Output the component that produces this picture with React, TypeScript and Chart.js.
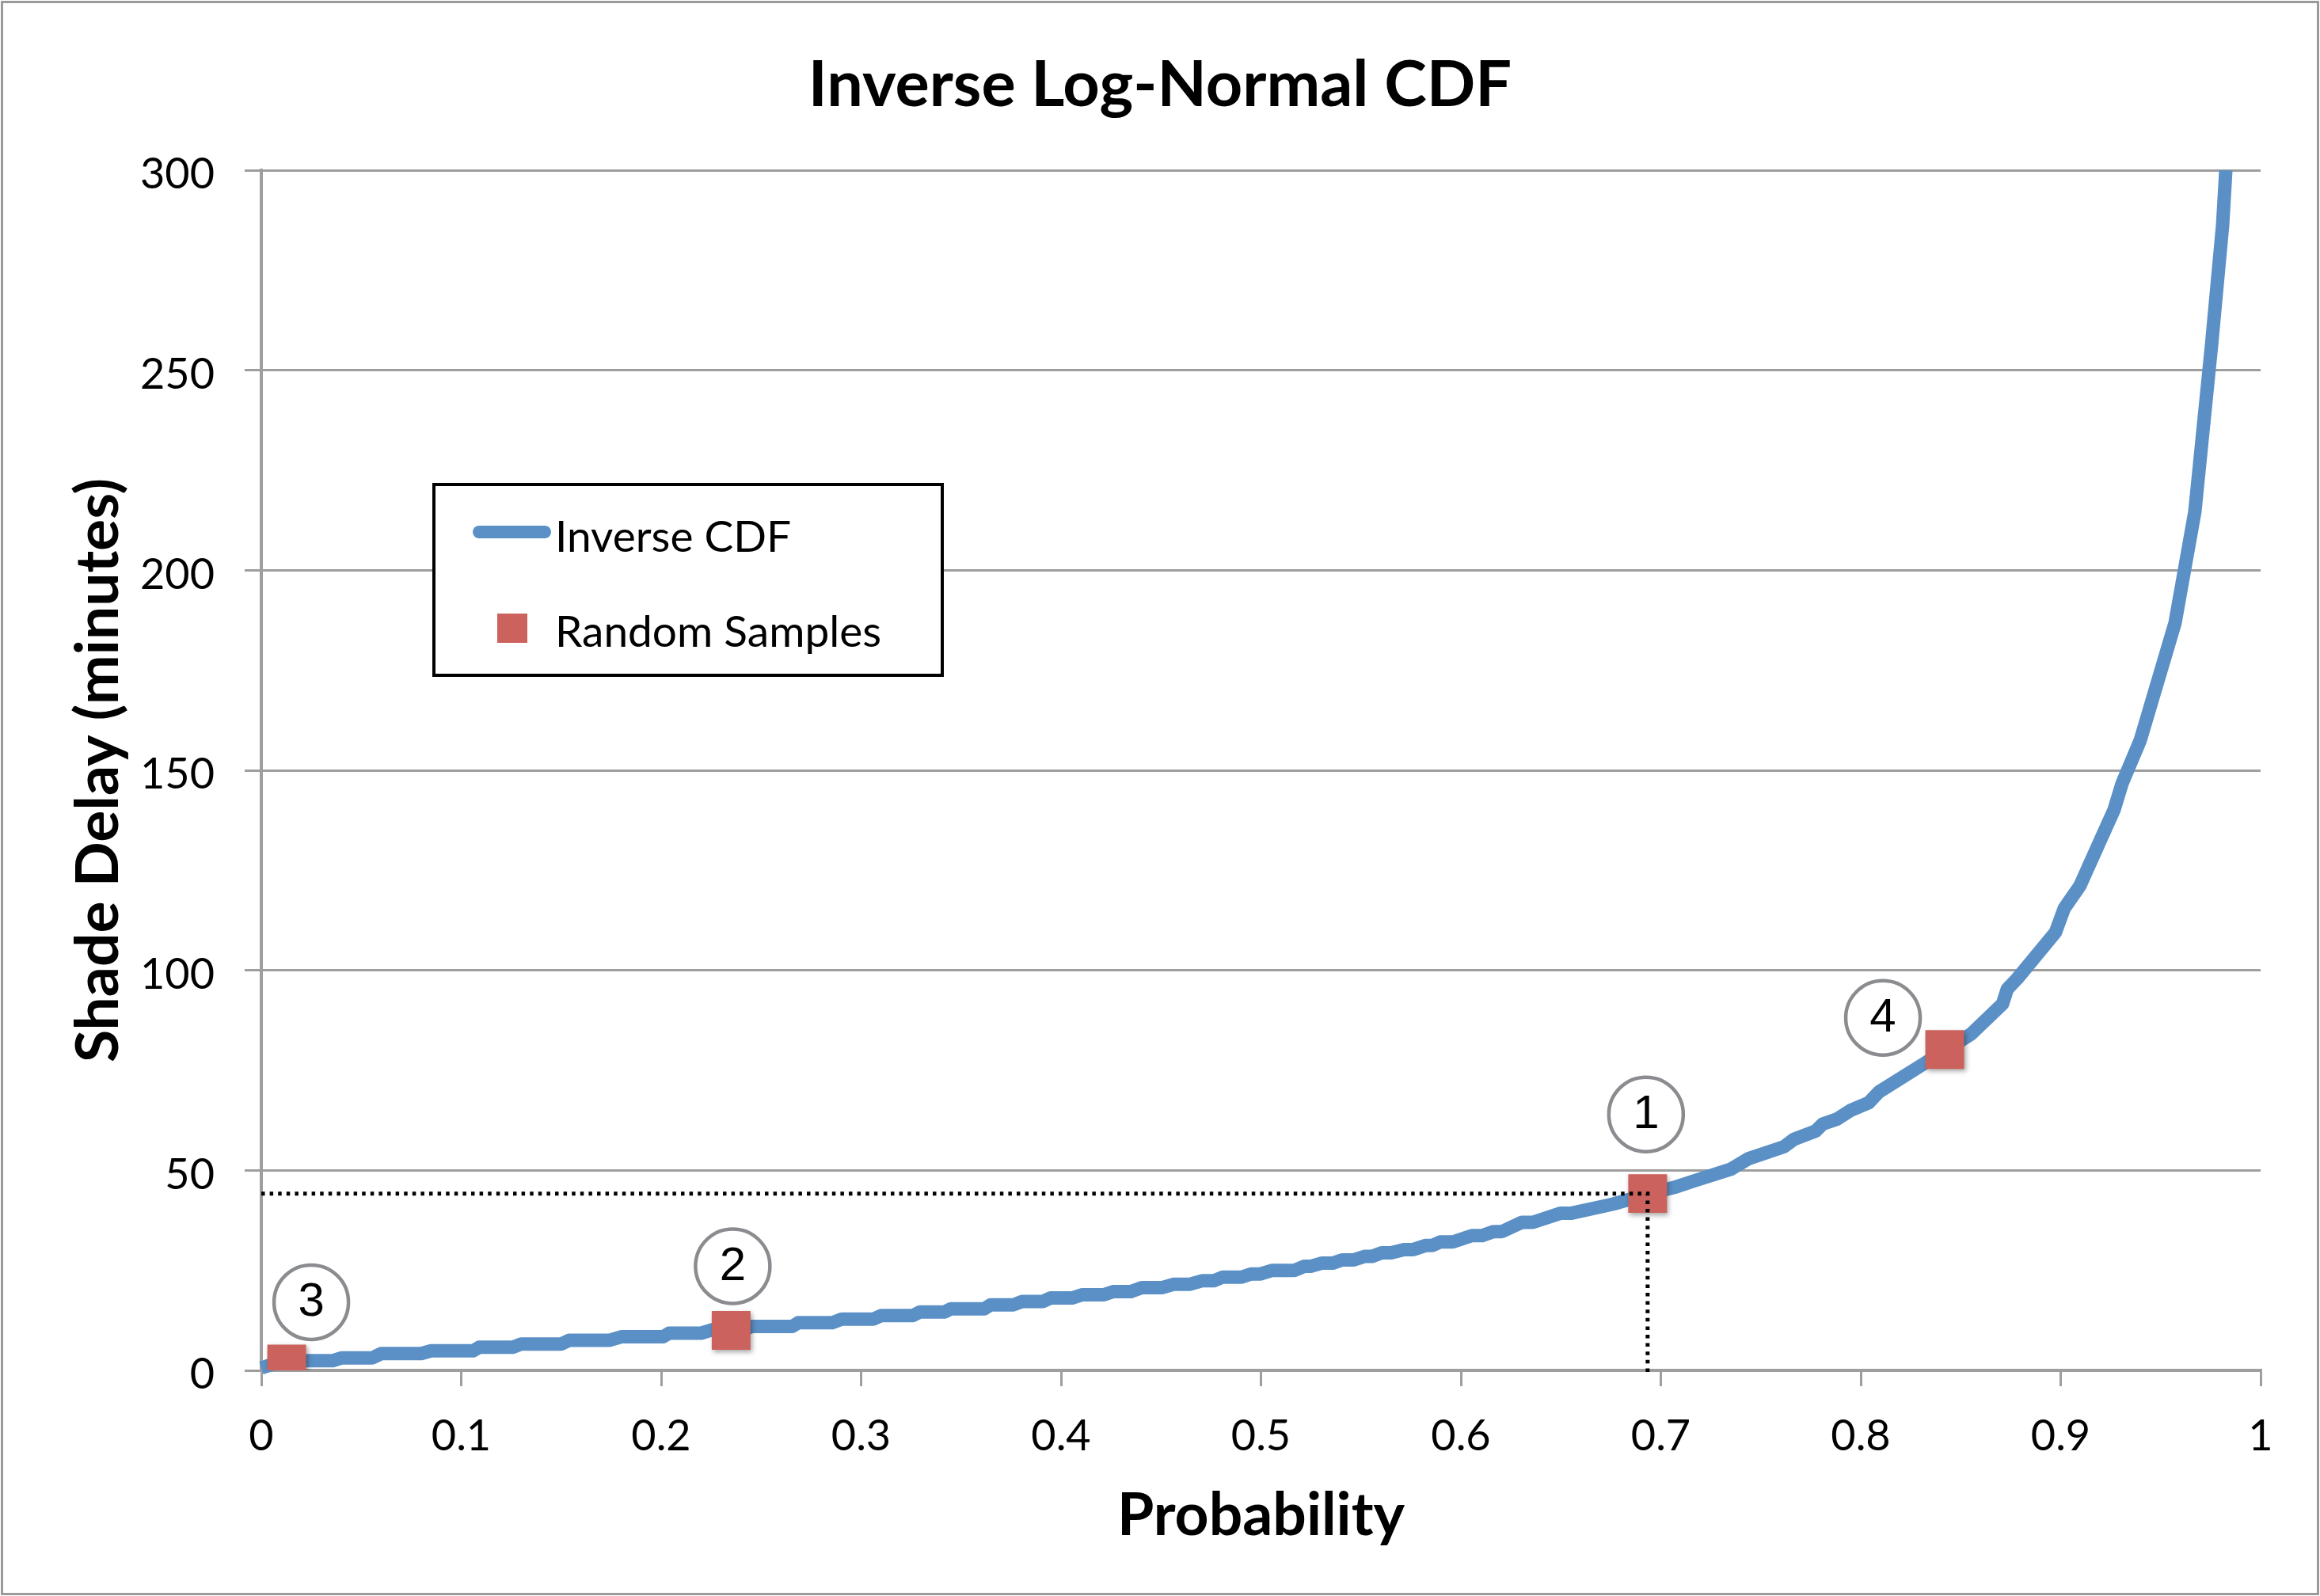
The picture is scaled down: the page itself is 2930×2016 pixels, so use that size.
import React, { useEffect, useRef } from 'react';
import { Chart, registerables } from 'chart.js';

Chart.register(...registerables);

// ---------------- data ----------------
const CHART_TITLE = 'Inverse Log-Normal CDF';
const X_AXIS_TITLE = 'Probability';
const Y_AXIS_TITLE = 'Shade Delay (minutes)';
const SERIES_NAMES = ['Inverse CDF', 'Random Samples'];

const X_TICKS = [0, 0.1, 0.2, 0.3, 0.4, 0.5, 0.6, 0.7, 0.8, 0.9, 1];
const X_TICK_LABELS = ['0', '0.1', '0.2', '0.3', '0.4', '0.5', '0.6', '0.7', '0.8', '0.9', '1'];
const Y_TICKS = [0, 50, 100, 150, 200, 250, 300];
const Y_TICK_LABELS = ['0', '50', '100', '150', '200', '250', '300'];

const CURVE_PROB = [
  0, 0.006, 0.0226, 0.0356, 0.040, 0.0554, 0.060, 0.080, 0.085, 0.106,
  0.109, 0.126, 0.130, 0.150, 0.154, 0.174, 0.180, 0.201, 0.204, 0.220,
  0.226, 0.241, 0.2455, 0.2657, 0.2685, 0.2855, 0.2903, 0.3061, 0.3101, 0.3259,
  0.3295, 0.3418, 0.345, 0.3616, 0.3648, 0.3762, 0.3806, 0.3909, 0.3948, 0.4055,
  0.4107, 0.4214, 0.4261, 0.4349, 0.4404, 0.4507, 0.4562, 0.4642, 0.4705, 0.4764,
  0.4808, 0.4903, 0.495, 0.4998, 0.5057, 0.5168, 0.5216, 0.5248, 0.5303, 0.5358,
  0.5406, 0.5461, 0.5521, 0.5556, 0.5604, 0.5651, 0.5715, 0.5762, 0.5822, 0.5857,
  0.5897, 0.596, 0.6055, 0.6107, 0.6162, 0.6206, 0.6305, 0.636, 0.650, 0.6554,
  0.6729, 0.6764, 0.6943, 0.7065, 0.7156, 0.735, 0.7438, 0.7616, 0.7667, 0.7774,
  0.781, 0.7881, 0.7949, 0.804, 0.8091, 0.8321, 0.8428, 0.855, 0.8709, 0.8733,
  0.8784, 0.8974, 0.9018, 0.9097, 0.92, 0.9267, 0.9307, 0.9398, 0.9572, 0.9671,
  0.9755, 0.981, 0.9826,
];
const CURVE_DELAY = [
  0.6, 1.6, 2.4, 2.4, 3.1, 3.1, 4.2, 4.2, 4.9, 4.9,
  5.8, 5.8, 6.6, 6.6, 7.5, 7.5, 8.4, 8.4, 9.3, 9.3,
  10.2, 10.2, 11.0, 11.0, 11.9, 11.9, 12.8, 12.8, 13.7, 13.7,
  14.6, 14.6, 15.4, 15.4, 16.4, 16.4, 17.2, 17.2, 18.1, 18.1,
  18.9, 18.9, 19.7, 19.7, 20.7, 20.7, 21.5, 21.5, 22.4, 22.4,
  23.3, 23.3, 24.1, 24.1, 25.0, 25.0, 26.0, 26.0, 26.8, 26.8,
  27.6, 27.6, 28.5, 28.5, 29.4, 29.4, 30.2, 30.2, 31.2, 31.2,
  32.1, 32.1, 33.7, 33.7, 34.7, 34.7, 37.0, 37.0, 39.3, 39.3,
  41.2, 41.6, 44.2, 45.7, 47.2, 50.3, 52.9, 55.9, 57.8, 59.8,
  61.6, 62.8, 65.0, 66.9, 69.6, 76.8, 80.2, 84.0, 91.6, 95.3,
  98.0, 109.5, 115.5, 121.2, 132.7, 140.1, 146.7, 157.5, 186.8, 214.6,
  256.5, 286.3, 300,
];

const SAMPLE_PROB = [0.6934, 0.235, 0.0127, 0.842];
const SAMPLE_DELAY = [44.2, 10.0, 1.6, 80.2];
const SAMPLE_LABELS = ['1', '2', '3', '4'];

// dotted guide drawn from sample "1" to both axes
const GUIDE_SAMPLE_INDEX = 0;
const GUIDE_FLOOR = -1.6;

// ---------------- styles ----------------
const FONT = 'Lato, "Open Sans", "Noto Sans", sans-serif';
const CALLOUT_FONT = '"Liberation Sans", Arial, sans-serif';
const BLUE = '#5B90C6';
const RED = '#CB625D';
const GRID = '#9E9E9E';
const FRAME = '#9B9B9B';
const CALLOUT_OFFSETS = [[-2, -100], [2, -81], [31, -78], [-78, -40]];
const CALLOUT_RADIUS = 47;
const LEGEND_BOX = { left: 548, top: 612, right: 1190, bottom: 853 };

const framePlugin = {
  id: 'frame',
  beforeDraw(chart: any) {
    const { ctx, width, height } = chart;
    ctx.save();
    ctx.fillStyle = '#ffffff';
    ctx.fillRect(0, 0, width, height);
    ctx.strokeStyle = FRAME;
    ctx.lineWidth = 3;
    ctx.strokeRect(2.5, 2.5, width - 5, height - 5);
    ctx.restore();
  },
};

const shadowPlugin = {
  id: 'sampleShadow',
  beforeDatasetDraw(chart: any, args: any) {
    if (args.index !== 1) return;
    const ctx = chart.ctx;
    ctx.save();
    ctx.shadowColor = 'rgba(0,0,0,0.35)';
    ctx.shadowBlur = 6;
    ctx.shadowOffsetX = 2;
    ctx.shadowOffsetY = 3;
  },
  afterDatasetDraw(chart: any, args: any) {
    if (args.index !== 1) return;
    chart.ctx.restore();
  },
};

const calloutPlugin = {
  id: 'callouts',
  afterDatasetsDraw(chart: any) {
    const { ctx } = chart;
    const xs = chart.scales.x;
    const ys = chart.scales.y;
    ctx.save();
    SAMPLE_LABELS.forEach((label, i) => {
      const cx = xs.getPixelForValue(SAMPLE_PROB[i]) + CALLOUT_OFFSETS[i][0];
      const cy = ys.getPixelForValue(SAMPLE_DELAY[i]) + CALLOUT_OFFSETS[i][1];
      ctx.beginPath();
      ctx.arc(cx, cy, CALLOUT_RADIUS, 0, Math.PI * 2);
      ctx.strokeStyle = '#8A8C8F';
      ctx.lineWidth = 4.5;
      ctx.stroke();
      ctx.fillStyle = '#000';
      ctx.font = `60px ${CALLOUT_FONT}`;
      ctx.textAlign = 'center';
      ctx.textBaseline = 'middle';
      ctx.fillText(label, cx, cy + 1);
    });
    ctx.restore();
  },
};

const legendBoxPlugin = {
  id: 'legendBox',
  afterDraw(chart: any) {
    const { ctx } = chart;
    const curve = chart.data.datasets[2];
    const samples = chart.data.datasets[1];
    const b = LEGEND_BOX;
    ctx.save();
    ctx.fillStyle = '#ffffff';
    ctx.fillRect(b.left, b.top, b.right - b.left, b.bottom - b.top);
    ctx.strokeStyle = '#000';
    ctx.lineWidth = 4;
    ctx.strokeRect(b.left, b.top, b.right - b.left, b.bottom - b.top);

    // line item
    ctx.strokeStyle = curve.borderColor;
    ctx.lineWidth = 16;
    ctx.lineCap = 'round';
    ctx.beginPath();
    ctx.moveTo(b.left + 57, b.top + 60);
    ctx.lineTo(b.left + 140, b.top + 60);
    ctx.stroke();

    // square item
    ctx.fillStyle = samples.backgroundColor;
    ctx.fillRect(b.left + 80, b.top + 163, 38, 37);

    ctx.fillStyle = '#000';
    ctx.font = `55px ${FONT}`;
    ctx.textAlign = 'left';
    ctx.textBaseline = 'alphabetic';
    ctx.fillText(curve.label, b.left + 153, b.top + 85);
    ctx.fillText(samples.label, b.left + 153, b.top + 205);
    ctx.restore();
  },
};

export default function App() {
  const canvasRef = useRef<HTMLCanvasElement | null>(null);

  useEffect(() => {
    const canvas = canvasRef.current;
    if (!canvas) return;

    const curveData = CURVE_PROB.map((p, i) => ({ x: p, y: CURVE_DELAY[i] }));
    const sampleData = SAMPLE_PROB.map((p, i) => ({ x: p, y: SAMPLE_DELAY[i] }));
    const gx = SAMPLE_PROB[GUIDE_SAMPLE_INDEX];
    const gy = SAMPLE_DELAY[GUIDE_SAMPLE_INDEX];
    const guideData = [
      { x: X_TICKS[0], y: gy },
      { x: gx, y: gy },
      { x: gx, y: GUIDE_FLOOR },
    ];

    const chart = new Chart(canvas, {
      type: 'scatter',
      data: {
        datasets: [
          {
            label: 'guide',
            data: guideData,
            showLine: true,
            borderColor: '#000000',
            borderWidth: 5,
            borderDash: [4.5, 6.1],
            pointRadius: 0,
            clip: false,
            order: 0,
          } as any,
          {
            label: SERIES_NAMES[1],
            data: sampleData,
            showLine: false,
            pointStyle: 'rect',
            pointRadius: 34.6,
            backgroundColor: RED,
            borderColor: RED,
            borderWidth: 0,
            order: 1,
          } as any,
          {
            label: SERIES_NAMES[0],
            data: curveData,
            showLine: true,
            borderColor: BLUE,
            backgroundColor: BLUE,
            borderWidth: 17,
            borderJoinStyle: 'round',
            borderCapStyle: 'butt',
            pointRadius: 0,
            tension: 0,
            clip: { left: 10, right: 10, top: 0, bottom: 10 },
            order: 2,
          } as any,
        ],
      },
      options: {
        responsive: false,
        animation: false,
        events: [],
        layout: { padding: 0 },
        plugins: {
          legend: { display: false },
          tooltip: { enabled: false },
          title: {
            display: true,
            text: CHART_TITLE,
            color: '#000',
            font: { family: FONT, size: 81, weight: 'bold', lineHeight: 1.2 },
            padding: { top: 59, bottom: 58.8 },
          },
        },
        scales: {
          x: {
            type: 'linear',
            min: 0,
            max: 1,
            afterBuildTicks: (s: any) => {
              s.ticks = X_TICKS.map((v) => ({ value: v }));
            },
            afterFit: (s: any) => {
              s.height = 285;
            },
            ticks: {
              callback: (_v: any, i: number) => X_TICK_LABELS[i],
              color: '#000',
              font: { family: FONT, size: 54 },
              padding: 31,
              maxRotation: 0,
              autoSkip: false,
            },
            grid: {
              drawOnChartArea: false,
              drawTicks: true,
              tickLength: 20,
              color: GRID,
              lineWidth: 3,
            },
            border: { display: true, color: GRID, width: 4 },
            title: {
              display: true,
              text: X_AXIS_TITLE,
              color: '#000',
              font: { family: FONT, size: 75, weight: 'bold', lineHeight: 1.2 },
              padding: { top: 0, bottom: 56 },
            },
          },
          y: {
            type: 'linear',
            position: 'left',
            min: 0,
            max: 300,
            afterBuildTicks: (s: any) => {
              s.ticks = Y_TICKS.map((v) => ({ value: v }));
            },
            afterFit: (s: any) => {
              s.width = 330;
            },
            ticks: {
              callback: (_v: any, i: number) => Y_TICK_LABELS[i],
              color: '#000',
              font: { family: FONT, size: 54 },
              padding: 38,
              labelOffset: 6,
              autoSkip: false,
            },
            grid: {
              drawTicks: true,
              tickLength: 21,
              color: GRID,
              lineWidth: 3,
            },
            border: { display: true, color: GRID, width: 4 },
            title: {
              display: true,
              text: Y_AXIS_TITLE,
              color: '#000',
              font: { family: FONT, size: 75, weight: 'bold', lineHeight: 1.2 },
              padding: { top: 80, bottom: 0 },
            },
          },
          // blank right-hand margin so the title stays centred on the whole chart
          yMargin: {
            type: 'linear',
            position: 'right',
            min: 0,
            max: 300,
            afterFit: (s: any) => {
              s.width = 75;
            },
            ticks: { display: false },
            grid: { display: false, drawOnChartArea: false, drawTicks: false },
            border: { display: false },
            title: { display: false },
          },
        },
      } as any,
      plugins: [framePlugin, shadowPlugin, calloutPlugin, legendBoxPlugin],
    });

    return () => {
      chart.destroy();
    };
  }, []);

  return (
    <div style={{ position: 'fixed', left: 0, top: 0, width: 2930, height: 2016, background: '#fff' }}>
      <canvas ref={canvasRef} width={2930} height={2016} style={{ display: 'block' }} />
    </div>
  );
}
